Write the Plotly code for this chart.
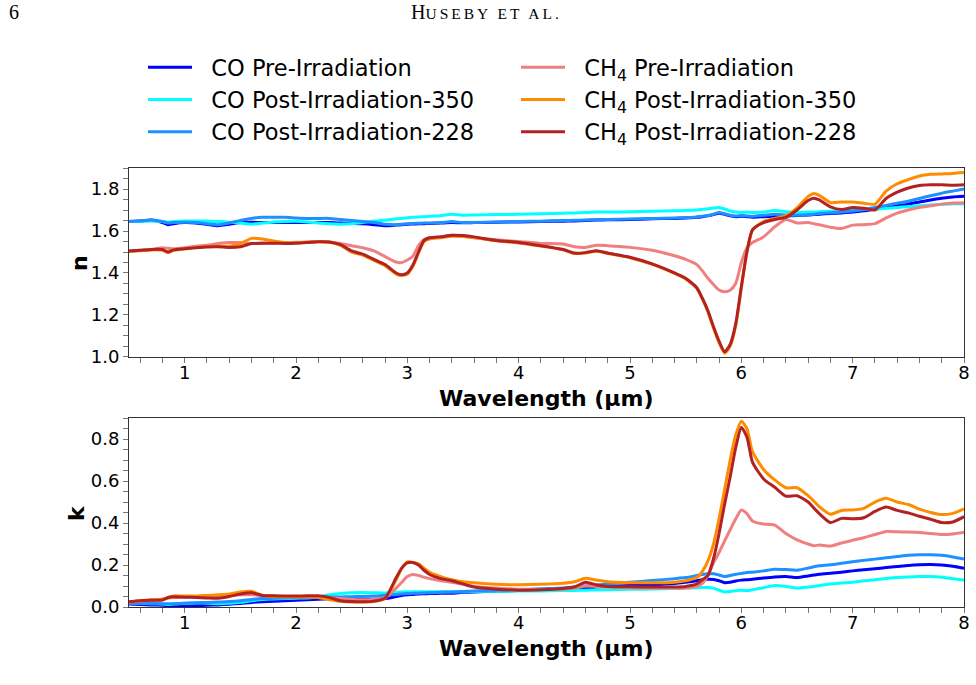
import plotly.graph_objects as go

# ---------------- data ----------------
wavelength = [0.5, 0.6, 0.7, 0.8, 0.85, 0.9, 1.0, 1.1, 1.2, 1.3,
              1.4, 1.5, 1.6, 1.7, 1.8, 1.9, 2.0, 2.1, 2.2, 2.3,
              2.4, 2.5, 2.6, 2.7, 2.8, 2.9, 2.95, 3.0, 3.05, 3.1,
              3.15, 3.2, 3.3, 3.4, 3.5, 3.6, 3.8, 4.0, 4.2, 4.4,
              4.5, 4.6, 4.7, 4.8, 5.0, 5.2, 5.4, 5.5, 5.6, 5.65,
              5.7, 5.75, 5.8, 5.85, 5.9, 5.95, 6.0, 6.05, 6.1, 6.2,
              6.3, 6.4, 6.5, 6.6, 6.65, 6.7, 6.8, 6.9, 7.0, 7.1,
              7.2, 7.3, 7.4, 7.5, 7.6, 7.7, 7.8, 7.9, 8.0]

series_names = ["CO Pre-Irradiation", "CO Post-Irradiation-350", "CO Post-Irradiation-228",
                "CH<sub>4</sub> Pre-Irradiation", "CH<sub>4</sub> Post-Irradiation-350",
                "CH<sub>4</sub> Post-Irradiation-228"]

# refractive index n
n_co_pre = [1.645, 1.648, 1.652, 1.640, 1.630, 1.635, 1.640, 1.638, 1.632, 1.625,
            1.632, 1.640, 1.642, 1.640, 1.640, 1.640, 1.640, 1.640, 1.640, 1.640,
            1.638, 1.636, 1.634, 1.630, 1.625, 1.628, 1.630, 1.632, 1.633, 1.634,
            1.635, 1.636, 1.638, 1.640, 1.639, 1.640, 1.642, 1.643, 1.645, 1.647,
            1.648, 1.650, 1.652, 1.653, 1.655, 1.658, 1.660, 1.662, 1.665, 1.668,
            1.672, 1.678, 1.685, 1.680, 1.672, 1.668, 1.670, 1.668, 1.666, 1.668,
            1.670, 1.672, 1.674, 1.676, 1.678, 1.680, 1.683, 1.686, 1.690, 1.696,
            1.704, 1.712, 1.720, 1.728, 1.738, 1.748, 1.756, 1.762, 1.765]
n_co_350 = [1.645, 1.645, 1.648, 1.645, 1.642, 1.645, 1.648, 1.648, 1.648, 1.645,
            1.642, 1.638, 1.632, 1.638, 1.643, 1.645, 1.646, 1.643, 1.638, 1.634,
            1.632, 1.634, 1.640, 1.648, 1.652, 1.658, 1.660, 1.663, 1.665, 1.667,
            1.668, 1.670, 1.673, 1.680, 1.675, 1.676, 1.678, 1.680, 1.682, 1.685,
            1.686, 1.688, 1.690, 1.690, 1.692, 1.694, 1.696, 1.698, 1.700, 1.703,
            1.706, 1.710, 1.712, 1.705, 1.695, 1.690, 1.688, 1.690, 1.688, 1.690,
            1.698, 1.692, 1.688, 1.690, 1.690, 1.692, 1.694, 1.696, 1.700, 1.702,
            1.705, 1.708, 1.712, 1.716, 1.720, 1.724, 1.727, 1.730, 1.730]
n_co_228 = [1.645, 1.648, 1.652, 1.645, 1.638, 1.640, 1.642, 1.640, 1.635, 1.630,
            1.638, 1.650, 1.660, 1.665, 1.665, 1.665, 1.662, 1.660, 1.660, 1.660,
            1.655, 1.650, 1.645, 1.640, 1.632, 1.630, 1.632, 1.635, 1.636, 1.637,
            1.638, 1.638, 1.640, 1.645, 1.640, 1.641, 1.643, 1.645, 1.647, 1.650,
            1.651, 1.652, 1.654, 1.655, 1.657, 1.660, 1.662, 1.664, 1.667, 1.670,
            1.674, 1.680, 1.688, 1.682, 1.675, 1.672, 1.674, 1.672, 1.670, 1.675,
            1.680, 1.676, 1.675, 1.678, 1.680, 1.683, 1.687, 1.690, 1.695, 1.702,
            1.712, 1.722, 1.732, 1.742, 1.755, 1.768, 1.780, 1.790, 1.800]
n_ch4_pre = [1.505, 1.508, 1.512, 1.520, 1.518, 1.515, 1.520, 1.528, 1.532, 1.540,
             1.545, 1.545, 1.540, 1.542, 1.544, 1.545, 1.546, 1.548, 1.550, 1.548,
             1.540, 1.530, 1.520, 1.505, 1.478, 1.452, 1.450, 1.462, 1.480, 1.530,
             1.560, 1.568, 1.573, 1.580, 1.575, 1.568, 1.558, 1.550, 1.541, 1.538,
             1.525, 1.522, 1.532, 1.530, 1.522, 1.508, 1.482, 1.465, 1.440, 1.410,
             1.375, 1.345, 1.319, 1.311, 1.318, 1.351, 1.450, 1.520, 1.545, 1.572,
             1.620, 1.655, 1.638, 1.640, 1.635, 1.630, 1.618, 1.612, 1.628, 1.630,
             1.635, 1.662, 1.685, 1.700, 1.712, 1.720, 1.728, 1.733, 1.735]
n_ch4_350 = [1.502, 1.506, 1.510, 1.508, 1.497, 1.508, 1.515, 1.522, 1.526, 1.528,
             1.528, 1.540, 1.565, 1.562, 1.552, 1.545, 1.544, 1.546, 1.549, 1.546,
             1.532, 1.500, 1.485, 1.460, 1.435, 1.395, 1.388, 1.395, 1.432, 1.495,
             1.550, 1.562, 1.568, 1.575, 1.574, 1.569, 1.553, 1.543, 1.528, 1.510,
             1.493, 1.495, 1.503, 1.493, 1.473, 1.441, 1.398, 1.372, 1.327, 1.276,
             1.215, 1.138, 1.068, 1.018, 1.052, 1.150, 1.328, 1.500, 1.605, 1.645,
             1.660, 1.672, 1.710, 1.765, 1.779, 1.770, 1.735, 1.738, 1.738, 1.732,
             1.728, 1.790, 1.825, 1.845, 1.862, 1.870, 1.872, 1.874, 1.878]
n_ch4_228 = [1.505, 1.508, 1.512, 1.512, 1.500, 1.510, 1.515, 1.520, 1.524, 1.525,
             1.522, 1.525, 1.540, 1.542, 1.542, 1.541, 1.542, 1.545, 1.549, 1.548,
             1.535, 1.505, 1.490, 1.465, 1.440, 1.400, 1.392, 1.400, 1.438, 1.500,
             1.555, 1.568, 1.572, 1.580, 1.578, 1.572, 1.555, 1.545, 1.530, 1.512,
             1.495, 1.497, 1.506, 1.495, 1.475, 1.443, 1.400, 1.375, 1.330, 1.280,
             1.220, 1.144, 1.075, 1.025, 1.060, 1.160, 1.335, 1.500, 1.605, 1.640,
             1.655, 1.665, 1.700, 1.745, 1.756, 1.748, 1.715, 1.702, 1.712, 1.708,
             1.700, 1.755, 1.785, 1.805, 1.817, 1.820, 1.820, 1.818, 1.820]

# extinction coefficient k
k_co_pre = [0.014, 0.012, 0.010, 0.008, 0.007, 0.006, 0.005, 0.006, 0.008, 0.010,
            0.013, 0.017, 0.022, 0.025, 0.027, 0.030, 0.032, 0.035, 0.037, 0.039,
            0.041, 0.040, 0.038, 0.037, 0.040, 0.050, 0.055, 0.058, 0.060, 0.062,
            0.063, 0.064, 0.065, 0.066, 0.070, 0.072, 0.075, 0.078, 0.080, 0.082,
            0.086, 0.090, 0.095, 0.098, 0.102, 0.106, 0.112, 0.118, 0.125, 0.130,
            0.132, 0.131, 0.125, 0.116, 0.118, 0.124, 0.128, 0.130, 0.132, 0.138,
            0.143, 0.145, 0.140, 0.148, 0.152, 0.156, 0.161, 0.166, 0.172, 0.177,
            0.182, 0.188, 0.193, 0.198, 0.201, 0.202, 0.200, 0.194, 0.185]
k_co_350 = [0.020, 0.018, 0.016, 0.014, 0.012, 0.014, 0.018, 0.020, 0.018, 0.016,
            0.018, 0.022, 0.030, 0.036, 0.038, 0.040, 0.042, 0.043, 0.048, 0.058,
            0.064, 0.068, 0.069, 0.068, 0.067, 0.070, 0.072, 0.073, 0.073, 0.073,
            0.073, 0.073, 0.073, 0.073, 0.073, 0.074, 0.075, 0.076, 0.076, 0.078,
            0.079, 0.080, 0.081, 0.082, 0.084, 0.086, 0.088, 0.090, 0.092, 0.093,
            0.093, 0.090, 0.080, 0.072, 0.074, 0.078, 0.080, 0.078, 0.082, 0.092,
            0.102, 0.098, 0.090, 0.095, 0.098, 0.102, 0.110, 0.114, 0.118, 0.125,
            0.130, 0.136, 0.140, 0.143, 0.145, 0.145, 0.142, 0.135, 0.128]
k_co_228 = [0.018, 0.018, 0.017, 0.016, 0.015, 0.016, 0.018, 0.020, 0.022, 0.024,
            0.026, 0.030, 0.036, 0.040, 0.042, 0.043, 0.044, 0.045, 0.046, 0.047,
            0.048, 0.049, 0.050, 0.052, 0.056, 0.060, 0.062, 0.064, 0.065, 0.066,
            0.067, 0.068, 0.070, 0.072, 0.074, 0.076, 0.080, 0.083, 0.087, 0.091,
            0.095, 0.100, 0.105, 0.110, 0.118, 0.126, 0.135, 0.140, 0.150, 0.155,
            0.158, 0.158, 0.152, 0.145, 0.150, 0.156, 0.160, 0.164, 0.166, 0.172,
            0.180, 0.178, 0.175, 0.185, 0.192, 0.196, 0.201, 0.208, 0.215, 0.222,
            0.228, 0.234, 0.240, 0.246, 0.249, 0.249, 0.246, 0.238, 0.228]
k_ch4_pre = [0.022, 0.028, 0.032, 0.038, 0.042, 0.045, 0.048, 0.050, 0.052, 0.054,
             0.056, 0.058, 0.058, 0.055, 0.052, 0.050, 0.050, 0.050, 0.048, 0.045,
             0.040, 0.036, 0.034, 0.036, 0.045, 0.090, 0.118, 0.145, 0.155, 0.150,
             0.142, 0.135, 0.125, 0.118, 0.108, 0.098, 0.090, 0.085, 0.083, 0.085,
             0.090, 0.100, 0.098, 0.095, 0.092, 0.090, 0.090, 0.090, 0.098, 0.112,
             0.150, 0.210, 0.260, 0.315, 0.368, 0.420, 0.462, 0.445, 0.410, 0.395,
             0.390, 0.350, 0.320, 0.300, 0.292, 0.295, 0.290, 0.305, 0.318, 0.330,
             0.345, 0.360, 0.358, 0.357, 0.355, 0.350, 0.345, 0.348, 0.356]
k_ch4_350 = [0.025, 0.030, 0.035, 0.035, 0.045, 0.053, 0.052, 0.052, 0.055, 0.058,
             0.062, 0.072, 0.075, 0.055, 0.050, 0.048, 0.048, 0.048, 0.045, 0.035,
             0.027, 0.024, 0.024, 0.026, 0.040, 0.130, 0.185, 0.215, 0.212, 0.205,
             0.185, 0.165, 0.145, 0.130, 0.120, 0.115, 0.108, 0.106, 0.108, 0.113,
             0.120, 0.137, 0.128, 0.120, 0.116, 0.115, 0.118, 0.125, 0.140, 0.170,
             0.220, 0.300, 0.420, 0.560, 0.700, 0.820, 0.885, 0.850, 0.740, 0.655,
             0.605, 0.568, 0.568, 0.530, 0.505, 0.478, 0.442, 0.460, 0.462, 0.470,
             0.500, 0.518, 0.500, 0.488, 0.466, 0.450, 0.440, 0.446, 0.467]
k_ch4_228 = [0.025, 0.030, 0.032, 0.033, 0.045, 0.049, 0.047, 0.045, 0.043, 0.042,
             0.050, 0.062, 0.068, 0.055, 0.053, 0.052, 0.052, 0.053, 0.053, 0.045,
             0.030, 0.026, 0.025, 0.028, 0.042, 0.140, 0.185, 0.210, 0.212, 0.200,
             0.175, 0.155, 0.135, 0.125, 0.110, 0.095, 0.085, 0.080, 0.082, 0.088,
             0.095, 0.118, 0.105, 0.098, 0.096, 0.095, 0.095, 0.098, 0.110, 0.130,
             0.150, 0.230, 0.350, 0.490, 0.620, 0.760, 0.855, 0.810, 0.690, 0.610,
             0.570, 0.528, 0.530, 0.500, 0.472, 0.445, 0.402, 0.422, 0.420, 0.425,
             0.455, 0.476, 0.460, 0.448, 0.432, 0.418, 0.402, 0.405, 0.430]

x_ticks = [1, 2, 3, 4, 5, 6, 7, 8]

# ---------------- styles ----------------
colors = ["#0000ff", "#00ffff", "#1e90ff", "#f08080", "#ff8c00", "#b22222"]
legends = ["legend", "legend", "legend", "legend2", "legend2", "legend2"]
n_series = [n_co_pre, n_co_350, n_co_228, n_ch4_pre, n_ch4_350, n_ch4_228]
k_series = [k_co_pre, k_co_350, k_co_228, k_ch4_pre, k_ch4_350, k_ch4_228]

FONT = "DejaVu Sans"
GAP = "\u00a0\u00a0"
fig = go.Figure()
for name, c, lg, ys in zip(series_names, colors, legends, n_series):
    fig.add_trace(go.Scatter(x=wavelength, y=ys, mode="lines", name=GAP + name,
                             line=dict(color=c, width=3, shape="spline", smoothing=0.6),
                             legend=lg, xaxis="x", yaxis="y"))
for name, c, ys in zip(series_names, colors, k_series):
    fig.add_trace(go.Scatter(x=wavelength, y=ys, mode="lines", name=name,
                             line=dict(color=c, width=3, shape="spline", smoothing=0.6),
                             showlegend=False, xaxis="x2", yaxis="y2"))

axis_common = dict(showline=True, mirror=True, linecolor="#333333", linewidth=1,
                   showgrid=False, zeroline=False, ticks="outside", ticklen=5,
                   tickcolor="#777777", tickwidth=1, automargin=True,
                   tickfont=dict(family=FONT, size=18, color="black"))
xcommon = dict(axis_common, range=[0.5, 8], tickvals=x_ticks, ticklabelstandoff=-6,
               minor=dict(dtick=0.2, tick0=0, ticks="outside", ticklen=5,
                          tickcolor="#777777", tickwidth=1))
ycommon_minor = dict(dtick=0.05, tick0=0, ticks="outside", ticklen=5,
                     tickcolor="#777777", tickwidth=1)

title_font = dict(family=FONT, size=22, color="black")

fig.update_layout(
    width=976, height=685,
    margin=dict(l=129, r=12, t=168, b=78, autoexpand=False),
    paper_bgcolor="white", plot_bgcolor="white",
    font=dict(family=FONT, color="black"),
    xaxis=dict(xcommon, anchor="y", domain=[0, 1]),
    yaxis=dict(axis_common, domain=[0.5695, 1.0], range=[1.0, 1.9], tick0=1.0, dtick=0.2,
               tickformat=".1f", minor=ycommon_minor, anchor="x"),
    xaxis2=dict(xcommon, anchor="y2", domain=[0, 1]),
    yaxis2=dict(axis_common, domain=[0.0, 0.4305], range=[0.0, 0.9], tick0=0.0, dtick=0.2,
                tickformat=".1f", minor=ycommon_minor, anchor="x2"),
    legend=dict(xref="container", yref="container", x=143 / 976, y=1 - 46 / 685,
                xanchor="left", yanchor="top", itemwidth=44,
                font=dict(family=FONT, size=22.5, color="black"),
                bgcolor="rgba(0,0,0,0)", tracegroupgap=0),
    legend2=dict(xref="container", yref="container", x=516 / 976, y=1 - 46 / 685,
                 xanchor="left", yanchor="top", itemwidth=44,
                 font=dict(family=FONT, size=22.5, color="black"),
                 bgcolor="rgba(0,0,0,0)", tracegroupgap=0),
    annotations=[
        dict(text="<b>Wavelength (µm)</b>", xref="paper", yref="paper", x=0.5,
             y=(607 - 398) / 439, xanchor="center", yanchor="middle",
             showarrow=False, font=title_font),
        dict(text="<b>Wavelength (µm)</b>", xref="paper", yref="paper", x=0.5,
             y=(607 - 648) / 439, xanchor="center", yanchor="middle",
             showarrow=False, font=title_font),
        dict(text="<b>n</b>", xref="paper", yref="paper", x=(79 - 129) / 835,
             y=(607 - 263) / 439, xanchor="center", yanchor="middle", textangle=-90,
             showarrow=False, font=title_font),
        dict(text="<b>k</b>", xref="paper", yref="paper", x=(76 - 129) / 835,
             y=(607 - 513) / 439, xanchor="center", yanchor="middle", textangle=-90,
             showarrow=False, font=title_font),
        dict(text="6", xref="paper", yref="paper", x=-122 / 835, y=1 + 156 / 439,
             xanchor="left", yanchor="middle", showarrow=False,
             font=dict(family="Liberation Serif", size=20, color="black")),
        dict(text="H<span style='font-size:15.5px;letter-spacing:3px'>USEBY ET AL.</span>",
             xref="paper", yref="paper",
             x=(486 - 129) / 835, y=1 + 156 / 439, xanchor="center", yanchor="middle",
             showarrow=False, font=dict(family="Liberation Serif", size=20, color="black")),
    ],
)

fig.write_html("out.html")
